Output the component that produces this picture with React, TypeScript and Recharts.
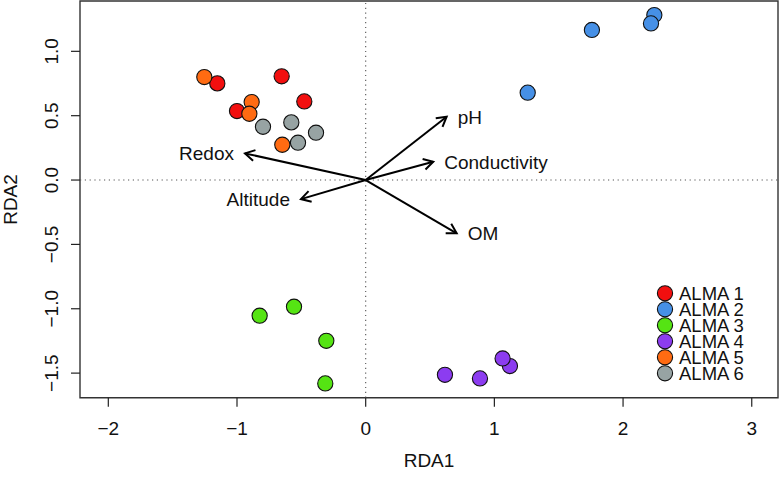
import React from 'react';
import { ScatterChart, Scatter, XAxis, YAxis, ReferenceLine, ReferenceArea, Legend } from 'recharts';

// ---- data ----
const X_TICKS = [-2, -1, 0, 1, 2, 3];
const Y_TICKS = [-1.5, -1, -0.5, 0, 0.5, 1];
const X_DOMAIN: [number, number] = [-2.22, 3.204];
const Y_DOMAIN: [number, number] = [-1.691, 1.391];

const GROUP_NAMES = ['ALMA 1', 'ALMA 2', 'ALMA 3', 'ALMA 4', 'ALMA 5', 'ALMA 6'];
const GROUP_COLORS = ['#F20F0F', '#4690E6', '#55E413', '#8C3CF0', '#FF6B12', '#97A3A3'];

const ALMA1 = [
  { x: -1.153, y: 0.751 },
  { x: -1.0, y: 0.536 },
  { x: -0.653, y: 0.806 },
  { x: -0.477, y: 0.611 },
];
const ALMA2 = [
  { x: 2.243, y: 1.282 },
  { x: 2.217, y: 1.217 },
  { x: 1.758, y: 1.166 },
  { x: 1.259, y: 0.679 },
];
const ALMA3 = [
  { x: -0.824, y: -1.054 },
  { x: -0.557, y: -0.984 },
  { x: -0.306, y: -1.249 },
  { x: -0.314, y: -1.58 },
];
const ALMA4 = [
  { x: 0.616, y: -1.513 },
  { x: 0.888, y: -1.541 },
  { x: 1.121, y: -1.445 },
  { x: 1.064, y: -1.386 },
];
const ALMA5 = [
  { x: -1.254, y: 0.8 },
  { x: -0.886, y: 0.606 },
  { x: -0.904, y: 0.515 },
  { x: -0.648, y: 0.274 },
];
const ALMA6 = [
  { x: -0.798, y: 0.414 },
  { x: -0.578, y: 0.448 },
  { x: -0.526, y: 0.29 },
  { x: -0.386, y: 0.368 },
];
const GROUP_DATA = [ALMA1, ALMA2, ALMA3, ALMA4, ALMA5, ALMA6];

const ARROW_NAMES = ['pH', 'Conductivity', 'OM', 'Redox', 'Altitude'];
const ARROW_X = [0.629, 0.525, 0.707, -0.938, -0.503];
const ARROW_Y = [0.492, 0.142, -0.414, 0.207, -0.148];

// ---- styles ----
const FONT = '"Liberation Sans", Arial, Helvetica, sans-serif';
const FS = 19;
const LEG_FS = 18.5;

const fmt = (v: number, digits: number) => {
  const s = Math.abs(v).toFixed(digits);
  return v < 0 ? '\u2212' + s : s;
};

const XTick = (props: any) => {
  const { x, payload } = props;
  return (
    <text x={x} y={434.5} textAnchor="middle" fontFamily={FONT} fontSize={FS} fill="#111">
      {fmt(payload.value, 0)}
    </text>
  );
};

const YTick = (props: any) => {
  const { y, payload } = props;
  const bx = 58.5;
  return (
    <text
      x={bx}
      y={y}
      transform={`rotate(-90, ${bx}, ${y})`}
      textAnchor="middle"
      fontFamily={FONT}
      fontSize={FS}
      fill="#111"
    >
      {fmt(payload.value, 1)}
    </text>
  );
};

const XTitle = () => (
  <text x={429} y={467} textAnchor="middle" fontFamily={FONT} fontSize={FS} fill="#111">
    RDA1
  </text>
);

const YTitle = () => (
  <text
    x={17}
    y={199.5}
    transform="rotate(-90, 17, 199.5)"
    textAnchor="middle"
    fontFamily={FONT}
    fontSize={FS}
    fill="#111"
  >
    RDA2
  </text>
);

const makeDot = (color: string) => (props: any) => {
  const { cx, cy } = props;
  if (cx == null || cy == null) return <g />;
  return <circle cx={cx} cy={cy} r={7.6} fill={color} stroke="#111" strokeWidth={1.1} />;
};

const makeArrow = (label: string) => (props: any) => {
  const { x1, y1, x2, y2 } = props;
  if ([x1, y1, x2, y2].some((v) => v == null || isNaN(v))) return <g />;
  const ang = Math.atan2(y2 - y1, x2 - x1);
  const L = 11;
  const a = Math.PI / 6;
  const h1x = x2 - L * Math.cos(ang - a);
  const h1y = y2 - L * Math.sin(ang - a);
  const h2x = x2 - L * Math.cos(ang + a);
  const h2y = y2 - L * Math.sin(ang + a);
  const right = x2 >= x1;
  return (
    <g>
      <line x1={x1} y1={y1} x2={x2} y2={y2} stroke="#000" strokeWidth={2} />
      <polyline
        points={`${h1x},${h1y} ${x2},${y2} ${h2x},${h2y}`}
        fill="none"
        stroke="#000"
        strokeWidth={2}
      />
      <text
        x={right ? x2 + 11 : x2 - 11}
        y={y2 + 6.8}
        textAnchor={right ? 'start' : 'end'}
        fontFamily={FONT}
        fontSize={FS}
        fill="#111"
      >
        {label}
      </text>
    </g>
  );
};

const LegendContent = () => (
  <svg width={130} height={100} style={{ display: 'block' }}>
    {GROUP_NAMES.map((name, i) => (
      <g key={name}>
        <circle cx={9} cy={9.3 + i * 16} r={7.6} fill={GROUP_COLORS[i]} stroke="#111" strokeWidth={1.1} />
        <text x={23} y={9.3 + i * 16 + 6.6} fontFamily={FONT} fontSize={LEG_FS} fill="#111">
          {name}
        </text>
      </g>
    ))}
  </svg>
);

export default function App() {
  return (
    <div style={{ position: 'absolute', left: 0, top: 0, width: 782, height: 480, background: '#fff' }}>
      <ScatterChart width={782} height={480} margin={{ top: 1, right: 4, bottom: 0, left: 0 }}>
        <XAxis
          type="number"
          dataKey="x"
          domain={X_DOMAIN}
          ticks={X_TICKS}
          allowDataOverflow
          height={82.3}
          tickSize={9}
          axisLine={false}
          tickLine={{ stroke: '#222', strokeWidth: 1.2 }}
          tick={<XTick />}
          label={<XTitle />}
          interval={0}
        />
        <YAxis
          type="number"
          dataKey="y"
          domain={Y_DOMAIN}
          ticks={Y_TICKS}
          allowDataOverflow
          width={80}
          tickSize={9}
          axisLine={false}
          tickLine={{ stroke: '#222', strokeWidth: 1.2 }}
          tick={<YTick />}
          label={<YTitle />}
          interval={0}
        />
        <ReferenceLine x={0} stroke="#555" strokeDasharray="1.2 3.6" strokeWidth={1.1} />
        <ReferenceLine y={0} stroke="#555" strokeDasharray="1.2 3.6" strokeWidth={1.1} />
        {GROUP_DATA.map((d, i) => (
          <Scatter
            key={GROUP_NAMES[i]}
            name={GROUP_NAMES[i]}
            data={d}
            fill={GROUP_COLORS[i]}
            shape={makeDot(GROUP_COLORS[i])}
            isAnimationActive={false}
          />
        ))}
        {ARROW_NAMES.map((n, i) => (
          <ReferenceLine
            key={n}
            segment={[
              { x: 0, y: 0 },
              { x: ARROW_X[i], y: ARROW_Y[i] },
            ]}
            shape={makeArrow(n)}
            ifOverflow="visible"
          />
        ))}
        <ReferenceArea
          x1={X_DOMAIN[0]}
          x2={X_DOMAIN[1]}
          y1={Y_DOMAIN[0]}
          y2={Y_DOMAIN[1]}
          fill="none"
          fillOpacity={0}
          stroke="#333"
          strokeWidth={1.4}
          ifOverflow="visible"
        />
        <Legend
          layout="vertical"
          align="center"
          verticalAlign="middle"
          content={<LegendContent />}
          wrapperStyle={{ left: 656, top: 284, width: 130, height: 100 }}
        />
      </ScatterChart>
    </div>
  );
}
